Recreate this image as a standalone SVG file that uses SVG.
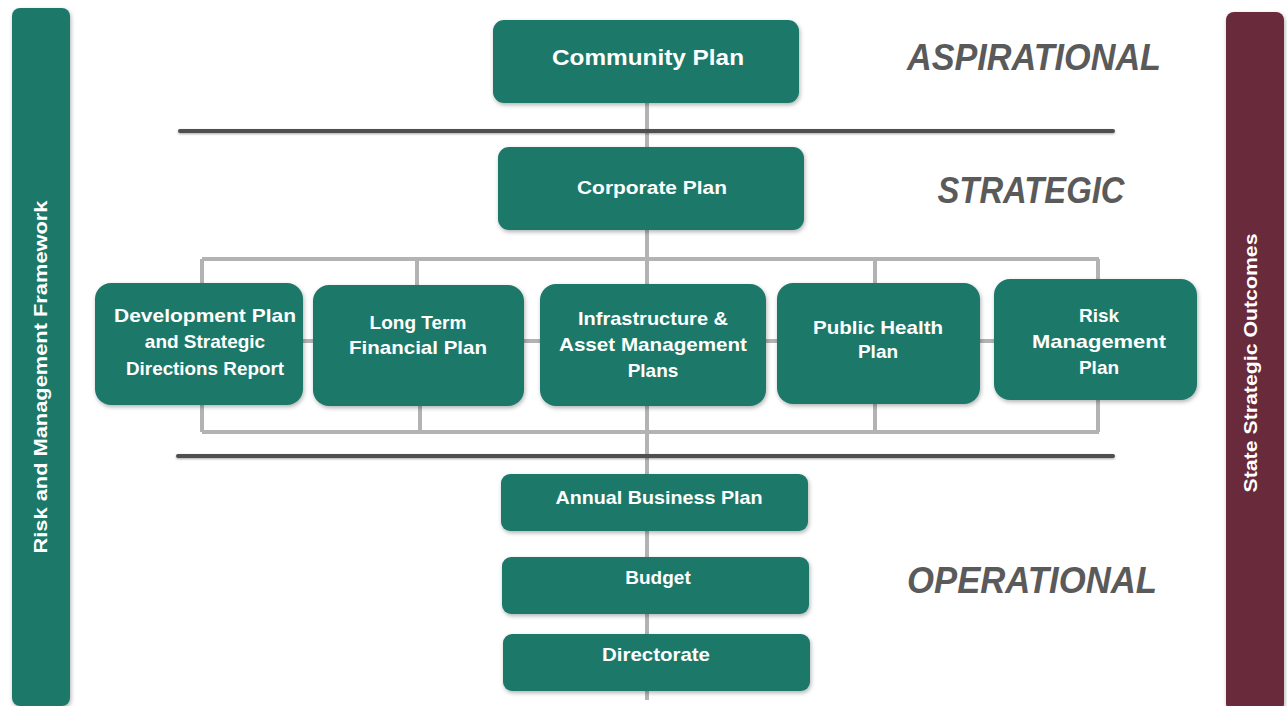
<svg xmlns="http://www.w3.org/2000/svg" width="1287" height="706" viewBox="0 0 1287 706">
<defs>
<filter id="sh" x="-10%" y="-10%" width="120%" height="130%">
<feDropShadow dx="1" dy="2" stdDeviation="2" flood-color="#000" flood-opacity="0.3"/>
</filter>
<filter id="lsh" filterUnits="userSpaceOnUse" x="0" y="0" width="1287" height="706">
<feDropShadow dx="0" dy="1" stdDeviation="1.2" flood-color="#000" flood-opacity="0.35"/>
</filter>
</defs>
<style>
.box{fill:#1f796b;filter:url(#sh)}
.side{filter:url(#sh)}
.t{font-family:"Liberation Sans",Arial,sans-serif;font-weight:bold;fill:#fff;text-anchor:middle}
.lvl{font-family:"Liberation Sans",Arial,sans-serif;font-weight:bold;font-style:italic;fill:#5a5a5a;text-anchor:middle}
.br{stroke:#b3b3b3;stroke-width:4;fill:none}
.sep{fill:#505050;filter:url(#lsh)}
</style>
<rect width="1287" height="706" fill="#fff"/>
<g id="connectors">
<line class="br" x1="647" y1="103" x2="647" y2="700" stroke="#a0a0a0"/>
<path class="br" d="M202 259 H1099 M202 259 V432 M1098 259 V432 M202 432 H1099 M202 341 H1098 M417 259 V286 M875 259 V284 M420 406 V432 M875 404 V432"/>
</g>
<g id="separators">
<rect class="sep" x="178" y="129" width="937" height="4" rx="2"/>
<rect class="sep" x="176" y="454" width="939" height="4" rx="2"/>
</g>
<g id="risk-framework">
<rect class="side" x="12" y="8" width="58" height="698" rx="8" fill="#1f796b"/>
<text class="t" transform="translate(47,377) rotate(-90)" font-size="19" textLength="353" lengthAdjust="spacingAndGlyphs">Risk and Management Framework</text>
</g>
<g id="state-outcomes">
<rect class="side" x="1226" y="12" width="58" height="700" rx="8" fill="#692a3b"/>
<text class="t" transform="translate(1257,363) rotate(-90)" font-size="18" textLength="259" lengthAdjust="spacingAndGlyphs">State Strategic Outcomes</text>
</g>
<g id="community-plan">
<rect class="box" x="493" y="20" width="306" height="83" rx="11"/>
<text class="t" x="648" y="65" font-size="22" textLength="192" lengthAdjust="spacingAndGlyphs">Community Plan</text>
</g>
<g id="corporate-plan">
<rect class="box" x="498" y="147" width="306" height="83" rx="11"/>
<text class="t" x="652" y="194" font-size="18" textLength="150" lengthAdjust="spacingAndGlyphs">Corporate Plan</text>
</g>
<g id="development-plan">
<rect class="box" x="95" y="283" width="208" height="122" rx="16"/>
<text class="t" font-size="19"><tspan x="205" y="322" textLength="182" lengthAdjust="spacingAndGlyphs">Development Plan</tspan><tspan x="205" y="348">and Strategic</tspan><tspan x="205" y="375" textLength="158" lengthAdjust="spacingAndGlyphs">Directions Report</tspan></text>
</g>
<g id="long-term-financial-plan">
<rect class="box" x="313" y="285" width="211" height="121" rx="16"/>
<text class="t" font-size="19"><tspan x="418" y="329">Long Term</tspan><tspan x="418" y="354" textLength="138" lengthAdjust="spacingAndGlyphs">Financial Plan</tspan></text>
</g>
<g id="infrastructure-plans">
<rect class="box" x="540" y="284" width="226" height="122" rx="16"/>
<text class="t" font-size="19"><tspan x="653" y="325" textLength="150" lengthAdjust="spacingAndGlyphs">Infrastructure &amp;</tspan><tspan x="653" y="351" textLength="188" lengthAdjust="spacingAndGlyphs">Asset Management</tspan><tspan x="653" y="377">Plans</tspan></text>
</g>
<g id="public-health-plan">
<rect class="box" x="777" y="283" width="203" height="121" rx="16"/>
<text class="t" font-size="19"><tspan x="878" y="334" textLength="130" lengthAdjust="spacingAndGlyphs">Public Health</tspan><tspan x="878" y="358">Plan</tspan></text>
</g>
<g id="risk-management-plan">
<rect class="box" x="994" y="279" width="203" height="121" rx="16"/>
<text class="t" font-size="19"><tspan x="1099" y="322">Risk</tspan><tspan x="1099" y="348" textLength="134" lengthAdjust="spacingAndGlyphs">Management</tspan><tspan x="1099" y="374">Plan</tspan></text>
</g>
<g id="annual-business-plan">
<rect class="box" x="501" y="474" width="307" height="57" rx="9"/>
<text class="t" x="659" y="504" font-size="19" textLength="207" lengthAdjust="spacingAndGlyphs">Annual Business Plan</text>
</g>
<g id="budget">
<rect class="box" x="502" y="557" width="307" height="57" rx="9"/>
<text class="t" x="658" y="584" font-size="19">Budget</text>
</g>
<g id="directorate">
<rect class="box" x="503" y="634" width="307" height="57" rx="9"/>
<text class="t" x="656" y="661" font-size="19" textLength="108" lengthAdjust="spacingAndGlyphs">Directorate</text>
</g>
<g id="levels">
<text class="lvl" x="1034" y="70" font-size="37" textLength="254" lengthAdjust="spacingAndGlyphs">ASPIRATIONAL</text>
<text class="lvl" x="1031" y="203" font-size="37" textLength="187" lengthAdjust="spacingAndGlyphs">STRATEGIC</text>
<text class="lvl" x="1032" y="593" font-size="37" textLength="250" lengthAdjust="spacingAndGlyphs">OPERATIONAL</text>
</g>
</svg>
